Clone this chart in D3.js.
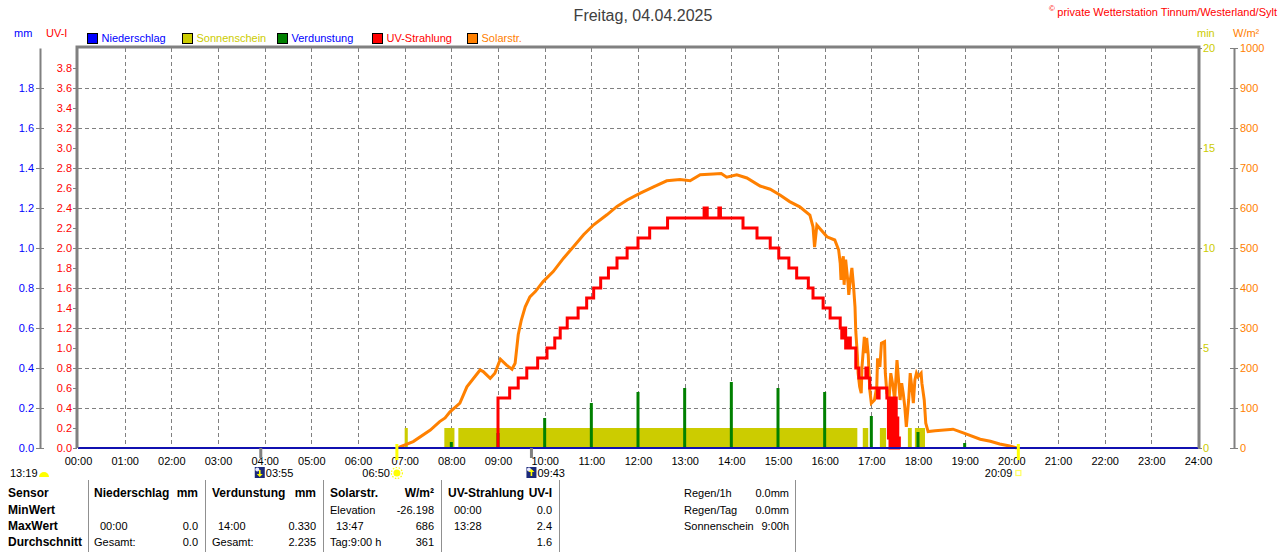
<!DOCTYPE html>
<html>
<head>
<meta charset="utf-8">
<title>Freitag, 04.04.2025</title>
<script src="https://d3js.org/d3.v7.min.js"></script>
<style>
  body { margin: 0; background: #fff; }
  svg text { font-family: "Liberation Sans", Arial, sans-serif; }
</style>
</head>
<body>
<div id="chart"></div>
<script>

// x axis tick labels (every hour)
var hourLabels = ["00:00", "01:00", "02:00", "03:00", "04:00", "05:00", "06:00", "07:00", "08:00",
    "09:00", "10:00", "11:00", "12:00", "13:00", "14:00", "15:00", "16:00", "17:00", "18:00",
    "19:00", "20:00", "21:00", "22:00", "23:00", "24:00"];

// left / right axis ticks
var mmTicks = [0, 0.2, 0.4, 0.6, 0.8, 1.0, 1.2, 1.4, 1.6, 1.8];
var uvTicks = [0, 0.2, 0.4, 0.6, 0.8, 1.0, 1.2, 1.4, 1.6, 1.8, 2.0, 2.2, 2.4, 2.6, 2.8, 3.0, 3.2, 3.4, 3.6, 3.8];
var minTicks = [0, 5, 10, 15, 20];
var wTicks = [0, 100, 200, 300, 400, 500, 600, 700, 800, 900, 1000];

// Sonnenschein (min per minute interval)
var sunStart = ["07:00", "07:51", "08:09", "16:49", "17:11", "17:47", "17:56"];
var sunEnd = ["07:04", "08:04", "16:42", "16:56", "17:19", "17:52", "18:09"];
var sunValue = [1, 1, 1, 1, 1, 1, 1];

// Verdunstung (mm)
var evapTime = ["08:00", "09:00", "10:00", "11:00", "12:00", "13:00", "14:00", "15:00", "16:00", "17:00", "18:00", "19:00"];
var evapValue = [0.03, 0.075, 0.15, 0.225, 0.28, 0.30, 0.33, 0.30, 0.28, 0.16, 0.08, 0.025];

// UV-Strahlung (UV-I)
var uvTime = ["09:00", "09:00", "09:15", "09:26", "09:37", "09:51", "10:03", "10:13", "10:20", "10:29",
    "10:43", "10:54", "11:03", "11:12", "11:22", "11:33", "11:46", "12:00", "12:15", "12:38",
    "13:25", "13:26", "13:28", "13:29", "13:44", "13:46", "14:15", "14:33", "14:50", "15:01",
    "15:14", "15:24", "15:39", "15:45", "15:58", "16:07", "16:20", "16:22", "16:25", "16:27",
    "16:30", "16:33", "16:40", "16:44", "16:53", "16:55", "16:58", "17:08", "17:10", "17:20",
    "17:22", "17:23", "17:24", "17:25", "17:26", "17:27", "17:28", "17:29", "17:30", "17:31",
    "17:32", "17:33", "17:34", "17:35", "17:36"];
var uvValue = [0, 0.5, 0.6, 0.7, 0.8, 0.9, 1.0, 1.1, 1.2, 1.3,
    1.4, 1.5, 1.6, 1.7, 1.8, 1.9, 2.0, 2.1, 2.2, 2.3,
    2.4, 2.3, 2.4, 2.3, 2.4, 2.3, 2.2, 2.1, 2.0, 1.9,
    1.8, 1.7, 1.6, 1.5, 1.4, 1.3, 1.2, 1.1, 1.2, 1.0,
    1.1, 1.0, 0.8, 0.7, 0.8, 0.7, 0.6, 0.5, 0.6, 0.5,
    0.1, 0.5, 0.0, 0.4, 0.1, 0.5, 0.0, 0.4, 0.2, 0.5,
    0.0, 0.3, 0.0, 0.1, 0.0];

// Solarstrahlung (W/m²)
var solarTime = ["06:51", "06:54", "07:11", "07:33", "07:45", "07:52", "07:58", "08:11", "08:20", "08:37",
    "08:41", "08:50", "08:56", "09:03", "09:11", "09:18", "09:22", "09:26", "09:30", "09:35",
    "09:41", "09:48", "09:58", "10:11", "10:24", "10:37", "10:50", "11:03", "11:20", "11:33",
    "11:46", "12:03", "12:20", "12:37", "12:54", "13:07", "13:20", "13:37", "13:47", "13:54",
    "14:07", "14:20", "14:37", "14:50", "15:03", "15:15", "15:28", "15:41", "15:45", "15:47",
    "15:50", "16:03", "16:13", "16:18", "16:20", "16:21", "16:22", "16:24", "16:25", "16:27",
    "16:30", "16:31", "16:33", "16:35", "16:37", "16:39", "16:40", "16:42", "16:43", "16:45",
    "16:47", "16:48", "16:51", "16:53", "16:54", "16:56", "16:58", "17:00", "17:04", "17:07",
    "17:08", "17:11", "17:13", "17:17", "17:18", "17:20", "17:23", "17:25", "17:28", "17:30",
    "17:33", "17:35", "17:37", "17:39", "17:41", "17:43", "17:45", "17:48", "17:50", "17:52",
    "17:54", "17:56", "17:58", "18:00", "18:04", "18:05", "18:08", "18:10", "18:13", "18:22",
    "18:45", "18:59", "19:20", "19:33", "19:45", "19:58", "20:07"];
var solarValue = [0, 3, 16, 45, 66, 75, 90, 112, 153, 195,
    191, 174, 187, 222, 207, 197, 212, 283, 320, 353,
    378, 391, 416, 441, 474, 503, 533, 558, 583, 604,
    620, 637, 653, 668, 671, 668, 683, 685, 686, 677,
    683, 675, 655, 647, 632, 616, 603, 582, 553, 502,
    557, 528, 520, 495, 462, 420, 462, 479, 408, 471,
    412, 383, 420, 450, 408, 353, 292, 233, 187, 153,
    137, 203, 278, 237, 275, 233, 145, 112, 120, 153,
    224, 203, 262, 266, 187, 137, 128, 187, 153, 120,
    220, 170, 120, 162, 137, 103, 53, 120, 187, 153,
    112, 170, 187, 178, 187, 162, 120, 62, 41, 43,
    47, 37, 22, 17, 10, 5, 0];

// statistics table
var rowLabels = ["Sensor", "MinWert", "MaxWert", "Durchschnitt"];
var statColumns = [
    [["Niederschlag", "mm"], ["", ""], ["00:00", "0.0"], ["Gesamt:", "0.0"]],
    [["Verdunstung", "mm"], ["", ""], ["14:00", "0.330"], ["Gesamt:", "2.235"]],
    [["Solarstr.", "W/m²"], ["Elevation", "-26.198"], ["13:47", "686"], ["Tag:9:00 h", "361"]],
    [["UV-Strahlung", "UV-I"], ["00:00", "0.0"], ["13:28", "2.4"], ["", "1.6"]]
];
var rainInfo = [["Regen/1h", "0.0mm"], ["Regen/Tag", "0.0mm"], ["Sonnenschein", "9:00h"]];

var legendNames = ["Niederschlag", "Sonnenschein", "Verdunstung", "UV-Strahlung", "Solarstr."];
var legendBox = ["#0000ff", "#cccc00", "#008000", "#ff0000", "#ff8000"];
var legendText = ["#0000ff", "#cccc00", "#0000ff", "#ff0000", "#ff8000"];

function toMin(s) { var p = s.split(":"); return +p[0] * 60 + +p[1]; }

var svg = d3.select("#chart").append("svg")
    .attr("width", 1280)
    .attr("height", 552);

var x = d3.scaleLinear().domain([0, 1440]).range([78, 1198]);
var yUV = d3.scaleLinear().domain([0, 4]).range([448, 48]);
var yMM = d3.scaleLinear().domain([0, 2]).range([448, 48]);
var yMin = d3.scaleLinear().domain([0, 20]).range([448, 48]);
var yW = d3.scaleLinear().domain([0, 1000]).range([448, 48]);

// grid
var grid = svg.append("g").attr("stroke", "#808080").attr("stroke-dasharray", "4,3").attr("stroke-width", 1);
grid.selectAll(".hg").data(mmTicks.slice(1)).enter().append("line")
    .attr("x1", x(0)).attr("x2", x(1440))
    .attr("y1", function (d) { return Math.round(yMM(d)) + 0.5; })
    .attr("y2", function (d) { return Math.round(yMM(d)) + 0.5; });
grid.selectAll(".vg").data(d3.range(1, 24)).enter().append("line")
    .attr("y1", 48).attr("y2", 448)
    .attr("x1", function (d) { return Math.round(x(d * 60)) + 0.5; })
    .attr("x2", function (d) { return Math.round(x(d * 60)) + 0.5; });

// Sonnenschein
svg.append("g").selectAll("rect").data(sunStart).enter().append("rect")
    .attr("x", function (d) { return x(toMin(d)); })
    .attr("width", function (d, i) { return x(toMin(sunEnd[i])) - x(toMin(d)); })
    .attr("y", function (d, i) { return yMin(sunValue[i]); })
    .attr("height", function (d, i) { return yMin(0) - yMin(sunValue[i]); })
    .attr("fill", "#cccc00");

// Verdunstung
svg.append("g").selectAll("rect").data(evapTime).enter().append("rect")
    .attr("x", function (d) { return x(toMin(d)) - 1.5; })
    .attr("width", 3)
    .attr("y", function (d, i) { return yMM(evapValue[i]); })
    .attr("height", function (d, i) { return yMM(0) - yMM(evapValue[i]); })
    .attr("fill", "#008000");

// Solarstrahlung
var solarData = solarTime.map(function (t, i) { return { t: toMin(t), v: solarValue[i] }; });
svg.append("path")
    .datum(solarData)
    .attr("fill", "none")
    .attr("stroke", "#ff8000")
    .attr("stroke-width", 3)
    .attr("d", d3.line().x(function (d) { return x(d.t); }).y(function (d) { return yW(d.v); }));

// UV-Strahlung
var uvData = uvTime.map(function (t, i) { return { t: toMin(t), v: uvValue[i] }; });
svg.append("path")
    .datum(uvData)
    .attr("fill", "none")
    .attr("stroke", "#ff0000")
    .attr("stroke-width", 3)
    .attr("d", d3.line().curve(d3.curveStepAfter)
        .x(function (d) { return x(d.t); }).y(function (d) { return yUV(d.v); }));

// Niederschlag baseline (0 mm)
svg.append("line")
    .attr("x1", x(0)).attr("x2", x(1440))
    .attr("y1", yMM(0)).attr("y2", yMM(0))
    .attr("stroke", "#1010b0").attr("stroke-width", 2);

// frame
svg.append("path")
    .attr("d", "M" + (x(0) - 1) + "," + yMM(0) + "V47H" + (x(1440) + 1) + "V" + yMM(0))
    .attr("fill", "none").attr("stroke", "#808080").attr("stroke-width", 3);

function styleAxis(g, color) {
    g.attr("font-size", null).attr("font-family", null);
    g.selectAll("text").attr("fill", color).style("font-size", "11px");
    g.selectAll("line").attr("stroke", "#808080");
    g.select(".domain").attr("stroke", "#808080").attr("stroke-width", 2);
}

// mm axis
var gMM = svg.append("g").attr("transform", "translate(40,0)")
    .call(d3.axisLeft(yMM).tickValues(mmTicks).tickFormat(d3.format(".1f")).tickSizeInner(4).tickSizeOuter(0).tickPadding(2));
gMM.selectAll(".tick line").attr("x1", 4);
styleAxis(gMM, "#0000ff");

// UV axis
var gUV = svg.append("g").attr("transform", "translate(77,0)")
    .call(d3.axisLeft(yUV).tickValues(uvTicks).tickFormat(d3.format(".1f")).tickSizeInner(4).tickSizeOuter(0).tickPadding(1));
styleAxis(gUV, "#ff0000");
gUV.select(".domain").remove();

// min axis
var gMin = svg.append("g").attr("transform", "translate(1198,0)")
    .call(d3.axisRight(yMin).tickValues(minTicks).tickFormat(d3.format("d")).tickSizeInner(4).tickSizeOuter(0).tickPadding(1));
styleAxis(gMin, "#cccc00");
gMin.select(".domain").remove();

// W/m² axis
var gW = svg.append("g").attr("transform", "translate(1234,0)")
    .call(d3.axisRight(yW).tickValues(wTicks).tickFormat(d3.format("d")).tickSizeInner(4).tickSizeOuter(0).tickPadding(2));
gW.selectAll(".tick line").attr("x1", -4);
styleAxis(gW, "#ff8000");

// x axis labels
var gX = svg.append("g").attr("transform", "translate(0,448)")
    .call(d3.axisBottom(x).tickValues(d3.range(0, 25).map(function (h) { return h * 60; }))
        .tickFormat(function (d, i) { return hourLabels[i]; }).tickSize(0).tickPadding(9));
styleAxis(gX, "#000");
gX.select(".domain").remove();

function txt(px, py, s, color, size, anchor, weight) {
    return svg.append("text").attr("x", px).attr("y", py).text(s)
        .attr("fill", color).style("font-size", size + "px")
        .attr("text-anchor", anchor || "start")
        .style("font-weight", weight || "normal");
}

// header
txt(643, 21, "Freitag, 04.04.2025", "#404040", 16, "middle");
txt(1277, 16, "private Wetterstation Tinnum/Westerland/Sylt", "#ff0000", 11, "end");
txt(1049, 11, "©", "#ff0000", 8, "start");
txt(14, 37, "mm", "#0000ff", 11);
txt(46, 37, "UV-I", "#ff0000", 11);
txt(1197, 37, "min", "#cccc00", 11);
txt(1233, 37, "W/m²", "#ff8000", 11);

// legend
legendNames.forEach(function (n, i) {
    var lx = 87.5 + i * 95;
    svg.append("rect").attr("x", lx).attr("y", 33.5).attr("width", 10).attr("height", 10)
        .attr("fill", legendBox[i]).attr("stroke", "#000").attr("stroke-width", 1);
    txt(lx + 14, 42, n, legendText[i], 11);
});

// sun and moon markers
var sunrise = toMin("06:50"), sunset = toMin("20:09"), moonA = toMin("03:55"), moonB = toMin("09:43");
[sunrise, sunset].forEach(function (t) {
    svg.append("line").attr("x1", x(t)).attr("x2", x(t)).attr("y1", 444).attr("y2", 460)
        .attr("stroke", "#ffff00").attr("stroke-width", 3);
});
[moonA, moonB].forEach(function (t) {
    svg.append("line").attr("x1", x(t)).attr("x2", x(t)).attr("y1", 448).attr("y2", 458)
        .attr("stroke", "#808080").attr("stroke-width", 3);
});

txt(10, 477, "13:19", "#000", 11);
svg.append("path").attr("d", "M39,477A5,5 0 0 1 49,477Z").attr("fill", "#ffff00");

function moonIcon(px, up) {
    svg.append("rect").attr("x", px).attr("y", 467).attr("width", 10).attr("height", 11).attr("fill", "#1c2a7a");
    svg.append("circle").attr("cx", px + 2.5).attr("cy", 469.5).attr("r", 2).attr("fill", "#e8e8ff");
    var ay = up ? 469 : 477, by = up ? 476 : 470;
    svg.append("path").attr("d", "M" + (px + 5) + "," + ay + "L" + (px + 2) + "," + (up ? ay + 3 : ay - 3) +
        "H" + (px + 8) + "Z M" + (px + 4.2) + "," + (up ? ay + 3 : ay - 3) + "H" + (px + 5.8) + "V" + by + "H" + (px + 4.2) + "Z")
        .attr("fill", "#ffff00");
}
moonIcon(x(moonA) - 6, false);
txt(x(moonA) + 5, 477, "03:55", "#000", 11);
moonIcon(x(moonB) - 5, true);
txt(x(moonB) + 6, 477, "09:43", "#000", 11);

txt(x(sunrise) - 7, 477, "06:50", "#000", 11, "end");
svg.append("circle").attr("cx", x(sunrise)).attr("cy", 473).attr("r", 3.5).attr("fill", "#ffff00");
svg.append("circle").attr("cx", x(sunrise)).attr("cy", 473).attr("r", 5.5).attr("fill", "none")
    .attr("stroke", "#ffff00").attr("stroke-width", 1.2).attr("stroke-dasharray", "1.5,1.5");
txt(x(sunset) - 6, 477, "20:09", "#000", 11, "end");
svg.append("rect").attr("x", x(sunset) - 2.5).attr("y", 470.5).attr("width", 5).attr("height", 5)
    .attr("fill", "none").attr("stroke", "#ffff60").attr("stroke-width", 1.2);

// statistics table
var rowY = [497, 514, 530, 546];
[88, 205, 323, 441, 559, 795].forEach(function (lx) {
    svg.append("line").attr("x1", lx + 0.5).attr("x2", lx + 0.5).attr("y1", 480).attr("y2", 552)
        .attr("stroke", "#909090");
});
rowLabels.forEach(function (r, i) { txt(8, rowY[i], r, "#000", 12, "start", "bold"); });
var colLeft = [94, 212, 330, 448], colRight = [198, 316, 434, 552];
statColumns.forEach(function (col, c) {
    col.forEach(function (cell, r) {
        var w = r === 0 ? "bold" : "normal", fs = r === 0 ? 12 : 11;
        var indent = /^\d\d:\d\d$/.test(cell[0]) ? 6 : 0;
        if (cell[0]) txt(colLeft[c] + indent, rowY[r], cell[0], "#000", fs, "start", w);
        if (cell[1]) txt(colRight[c], rowY[r], cell[1], "#000", fs, "end", w);
    });
});
rainInfo.forEach(function (cell, r) {
    txt(684, rowY[r], cell[0], "#000", 11);
    txt(789, rowY[r], cell[1], "#000", 11, "end");
});

</script>
</body>
</html>
